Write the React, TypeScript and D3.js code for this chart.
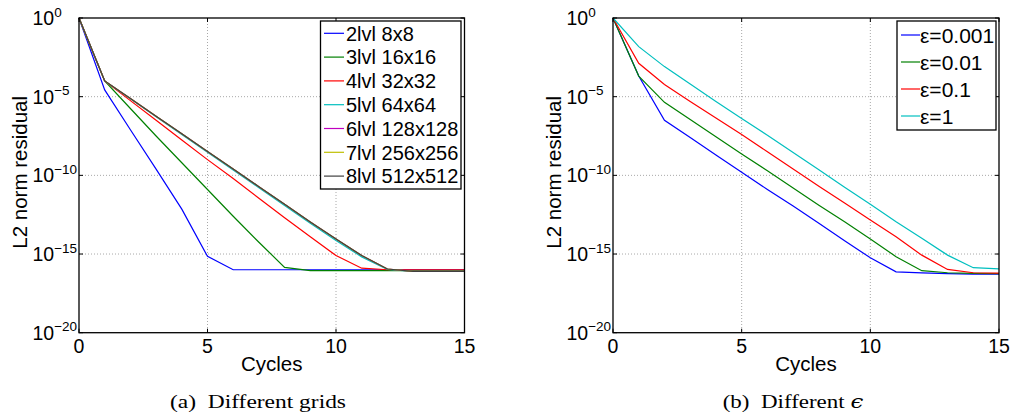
import React from 'react';
import * as d3 from 'd3';

// ---- data (values are log10 of the L2 norm residual) ----
const cycles = [0, 1, 2, 3, 4, 5, 6, 7, 8, 9, 10, 11, 12, 13, 14, 15];

const gridLabels = ['2lvl 8x8', '3lvl 16x16', '4lvl 32x32', '5lvl 64x64', '6lvl 128x128', '7lvl 256x256', '8lvl 512x512'];
const gridColors = ['#0000ff', '#008000', '#ff0000', '#00bfbf', '#bf00bf', '#bfbf00', '#404040'];
const lvl2 = [0, -4.57, -7.1, -9.6, -12.15, -15.15, -16.0, -16.0, -16.0, -16.0, -16.0, -16.0, -16.0, -16.0, -16.0, -16.0];
const lvl3 = [0, -4.0, -5.75, -7.5, -9.2, -10.9, -12.6, -14.25, -15.85, -16.05, -16.05, -16.05, -16.05, -16.05, -16.05, -16.05];
const lvl4 = [0, -4.0, -5.25, -6.5, -7.75, -9.0, -10.2, -11.45, -12.7, -13.9, -15.1, -15.9, -16.0, -16.0, -16.0, -16.0];
const lvl5 = [0, -4.0, -5.14, -6.27, -7.4, -8.53, -9.66, -10.79, -11.92, -13.04, -14.14, -15.18, -15.98, -16.1, -16.1, -16.1];
const lvl6 = [0, -4.0, -5.12, -6.24, -7.36, -8.48, -9.6, -10.72, -11.84, -12.96, -14.05, -15.1, -15.95, -16.1, -16.1, -16.1];
const lvl7 = [0, -4.0, -5.12, -6.24, -7.36, -8.48, -9.6, -10.72, -11.84, -12.96, -14.05, -15.1, -15.95, -16.1, -16.1, -16.1];
const lvl8 = [0, -4.0, -5.12, -6.24, -7.36, -8.48, -9.6, -10.72, -11.84, -12.96, -14.05, -15.1, -15.95, -16.1, -16.1, -16.1];

const epsLabels = ['ε=0.001', 'ε=0.01', 'ε=0.1', 'ε=1'];
const epsColors = ['#0000ff', '#008000', '#ff0000', '#00bfbf'];
const eps0001 = [0, -3.69, -6.5, -7.6, -8.7, -9.8, -10.9, -11.95, -13.05, -14.15, -15.24, -16.13, -16.2, -16.25, -16.28, -16.28];
const eps001 = [0, -3.69, -5.36, -6.45, -7.55, -8.65, -9.7, -10.8, -11.9, -12.95, -14.05, -15.17, -16.06, -16.19, -16.23, -16.25];
const eps01 = [0, -2.88, -4.22, -5.3, -6.35, -7.4, -8.5, -9.6, -10.7, -11.75, -12.84, -13.9, -15.07, -15.98, -16.19, -16.22];
const eps1 = [0, -1.82, -3.09, -4.2, -5.3, -6.38, -7.45, -8.55, -9.65, -10.75, -11.84, -12.95, -14.0, -15.07, -15.87, -15.95];

const xTicks = [0, 5, 10, 15];
const yTickExps = [0, -5, -10, -15, -20];

const TOP = 18;
const BOTTOM = 332.7;
const SANS = '"Liberation Sans", Arial, Helvetica, sans-serif';
const SERIF = '"Liberation Serif", "Times New Roman", serif';

type LegendCfg = {
  x: number; y: number; w: number; h: number;
  row0: number; step: number; lx0: number; lx1: number; tx: number; fontSize: number;
};

function Panel(props: {
  x0: number; x1: number; series: number[][]; colors: string[]; labels: string[];
  legend: LegendCfg; caption: React.ReactNode; captionX: number; captionLen: number;
}) {
  const { x0, x1, series, colors, labels, legend, caption, captionX, captionLen } = props;
  const x = d3.scaleLinear().domain([0, 15]).range([x0, x1]);
  const y = d3.scaleLog().domain([1e-20, 1]).range([BOTTOM, TOP]);
  const line = d3.line<number>()
    .x((_, i) => x(cycles[i]))
    .y((d) => y(Math.pow(10, d)));
  const midX = (x0 + x1) / 2;
  const midY = (TOP + BOTTOM) / 2;
  return (
    <g>
      {/* grid */}
      {xTicks.filter((t) => t !== 0 && t !== 15).map((t) => (
        <line key={'gx' + t} x1={x(t)} x2={x(t)} y1={TOP} y2={BOTTOM}
          stroke="#a8a8a8" strokeWidth={1} strokeDasharray="1,2" />
      ))}
      {yTickExps.filter((e) => e !== 0 && e !== -20).map((e) => (
        <line key={'gy' + e} x1={x0} x2={x1} y1={y(Math.pow(10, e))} y2={y(Math.pow(10, e))}
          stroke="#a8a8a8" strokeWidth={1} strokeDasharray="1,2" />
      ))}
      {/* data */}
      {series.map((s, i) => (
        <path key={'s' + i} d={line(s) || ''} fill="none" stroke={colors[i]} strokeWidth={1.2} />
      ))}
      {/* box */}
      <rect x={x0} y={TOP} width={x1 - x0} height={BOTTOM - TOP} fill="none" stroke="#000" strokeWidth={1.3} />
      {/* ticks */}
      {xTicks.map((t) => (
        <g key={'tx' + t}>
          <line x1={x(t)} x2={x(t)} y1={BOTTOM} y2={BOTTOM - 4} stroke="#000" />
          <line x1={x(t)} x2={x(t)} y1={TOP} y2={TOP + 4} stroke="#000" />
          <text x={x(t)} y={BOTTOM + 20.5} textAnchor="middle" fontFamily={SANS} fontSize={19.5} fill="#000">{t}</text>
        </g>
      ))}
      {yTickExps.map((e) => {
        const yy = y(Math.pow(10, e));
        return (
          <g key={'ty' + e}>
            <line x1={x0} x2={x0 + 4} y1={yy} y2={yy} stroke="#000" />
            <line x1={x1} x2={x1 - 4} y1={yy} y2={yy} stroke="#000" />
            <text x={x0 - 46.5} y={yy + 7} fontFamily={SANS} fontSize={19.5} fill="#000">
              10<tspan dy={-8.5} fontSize={13.5}>{e === 0 ? '0' : '\u2212' + -e}</tspan>
            </text>
          </g>
        );
      })}
      {/* axis labels */}
      <text x={midX} y={370.7} textAnchor="middle" fontFamily={SANS} fontSize={20.5} fill="#000">Cycles</text>
      <text transform={`translate(${x0 - 52},${midY - 3}) rotate(-90)`} textAnchor="middle" fontFamily={SANS} fontSize={20.5} fill="#000">L2 norm residual</text>
      {/* legend */}
      <rect x={legend.x} y={legend.y} width={legend.w} height={legend.h} fill="#fff" stroke="#000" strokeWidth={1.3} />
      {labels.map((lab, i) => {
        const ry = legend.row0 + i * legend.step;
        return (
          <g key={'lg' + i}>
            <line x1={legend.lx0} x2={legend.lx1} y1={ry} y2={ry} stroke={colors[i]} strokeWidth={1.2} />
            <text x={legend.tx} y={ry} dy="0.36em" fontFamily={SANS} fontSize={legend.fontSize} fill="#000">{lab}</text>
          </g>
        );
      })}
      {/* caption */}
      <text x={captionX} y={407.5} fontFamily={SERIF} fontSize={19} fill="#000"
        textLength={captionLen} lengthAdjust="spacingAndGlyphs">{caption}</text>
    </g>
  );
}

export default function App() {
  return (
    <svg width={1013} height={419} style={{ position: 'absolute', left: 0, top: 0, background: '#fff' }}>
      <rect x={0} y={0} width={1013} height={419} fill="#fff" />
      <Panel x0={79} x1={464.5}
        series={[lvl2, lvl3, lvl4, lvl5, lvl6, lvl7, lvl8]}
        colors={gridColors} labels={gridLabels}
        legend={{ x: 320.5, y: 21, w: 140.5, h: 168, row0: 33.3, step: 23.8, lx0: 324, lx1: 344, tx: 346, fontSize: 20 }}
        caption={'(a)\u00a0\u00a0Different grids'} captionX={170} captionLen={176} />
      <Panel x0={613} x1={999}
        series={[eps0001, eps001, eps01, eps1]}
        colors={epsColors} labels={epsLabels}
        legend={{ x: 897, y: 21, w: 99, h: 109, row0: 35, step: 27, lx0: 901, lx1: 920, tx: 920, fontSize: 21 }}
        caption={<>{'(b)\u00a0\u00a0Different '}<tspan fontStyle="italic" fontFamily='"DejaVu Serif", serif'>{'\u03f5'}</tspan></>}
        captionX={722.7} captionLen={140.6} />
    </svg>
  );
}
